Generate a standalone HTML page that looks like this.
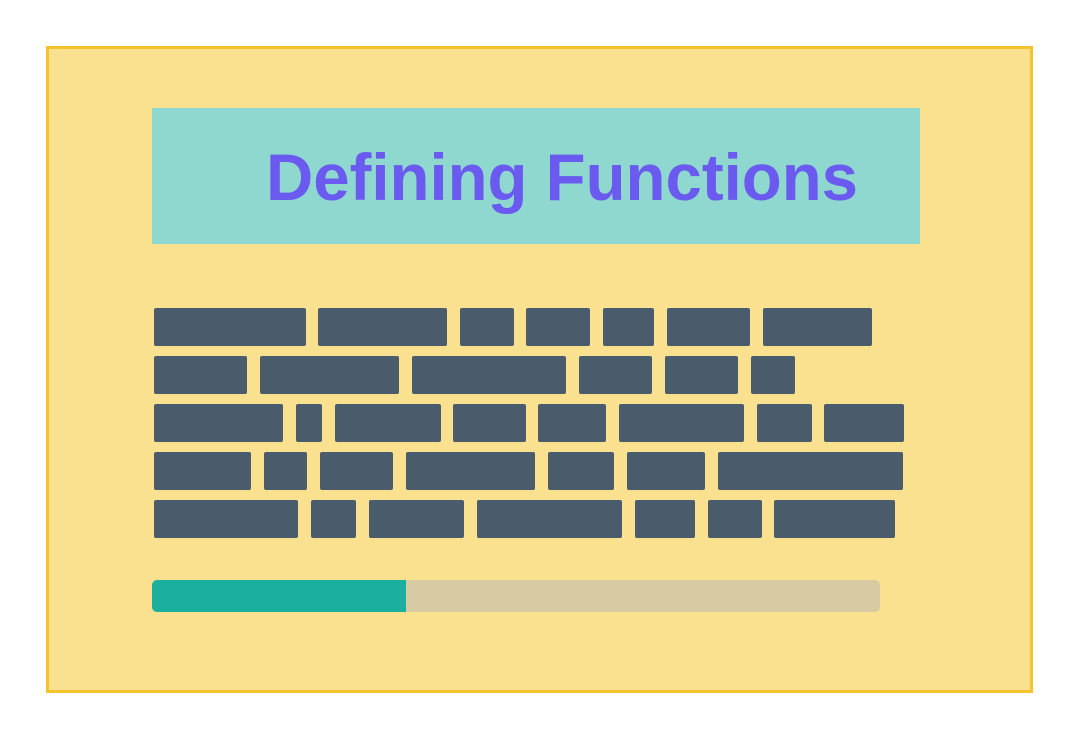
<!DOCTYPE html>
<html><head><meta charset="utf-8"><style>
html,body{margin:0;padding:0;background:#fff;width:1080px;height:740px;overflow:hidden}
</style></head><body>
<svg width="1080" height="740" xmlns="http://www.w3.org/2000/svg">
<rect x="47.5" y="47.5" width="984" height="644" fill="#fae190" stroke="#f5c32c" stroke-width="3"/>
<rect x="152" y="108" width="768" height="136" fill="#8fd8cf"/>
<text x="266" y="200" font-family="Liberation Sans, sans-serif" font-weight="bold" font-size="66" fill="#6a5af0" textLength="592" lengthAdjust="spacingAndGlyphs">Defining Functions</text>
<g fill="#4a5c6b">
<rect x="154" y="308" width="152" height="38" rx="2"/><rect x="318" y="308" width="129" height="38" rx="2"/><rect x="460" y="308" width="54" height="38" rx="2"/><rect x="526" y="308" width="64" height="38" rx="2"/><rect x="603" y="308" width="51" height="38" rx="2"/><rect x="667" y="308" width="83" height="38" rx="2"/><rect x="763" y="308" width="109" height="38" rx="2"/>
<rect x="154" y="356" width="93" height="38" rx="2"/><rect x="260" y="356" width="139" height="38" rx="2"/><rect x="412" y="356" width="154" height="38" rx="2"/><rect x="579" y="356" width="73" height="38" rx="2"/><rect x="665" y="356" width="73" height="38" rx="2"/><rect x="751" y="356" width="44" height="38" rx="2"/>
<rect x="154" y="404" width="129" height="38" rx="2"/><rect x="296" y="404" width="26" height="38" rx="2"/><rect x="335" y="404" width="106" height="38" rx="2"/><rect x="453" y="404" width="73" height="38" rx="2"/><rect x="538" y="404" width="68" height="38" rx="2"/><rect x="619" y="404" width="125" height="38" rx="2"/><rect x="757" y="404" width="55" height="38" rx="2"/><rect x="824" y="404" width="80" height="38" rx="2"/>
<rect x="154" y="452" width="97" height="38" rx="2"/><rect x="264" y="452" width="43" height="38" rx="2"/><rect x="320" y="452" width="73" height="38" rx="2"/><rect x="406" y="452" width="129" height="38" rx="2"/><rect x="548" y="452" width="66" height="38" rx="2"/><rect x="627" y="452" width="78" height="38" rx="2"/><rect x="718" y="452" width="185" height="38" rx="2"/>
<rect x="154" y="500" width="144" height="38" rx="2"/><rect x="311" y="500" width="45" height="38" rx="2"/><rect x="369" y="500" width="95" height="38" rx="2"/><rect x="477" y="500" width="145" height="38" rx="2"/><rect x="635" y="500" width="60" height="38" rx="2"/><rect x="708" y="500" width="54" height="38" rx="2"/><rect x="774" y="500" width="121" height="38" rx="2"/>
</g>
<rect x="152" y="580" width="728" height="32" rx="5" fill="#d6cba2"/>
<path d="M157 580 H406 V612 H157 A5 5 0 0 1 152 607 V585 A5 5 0 0 1 157 580 Z" fill="#1aaf9f"/>
</svg>
</body></html>
